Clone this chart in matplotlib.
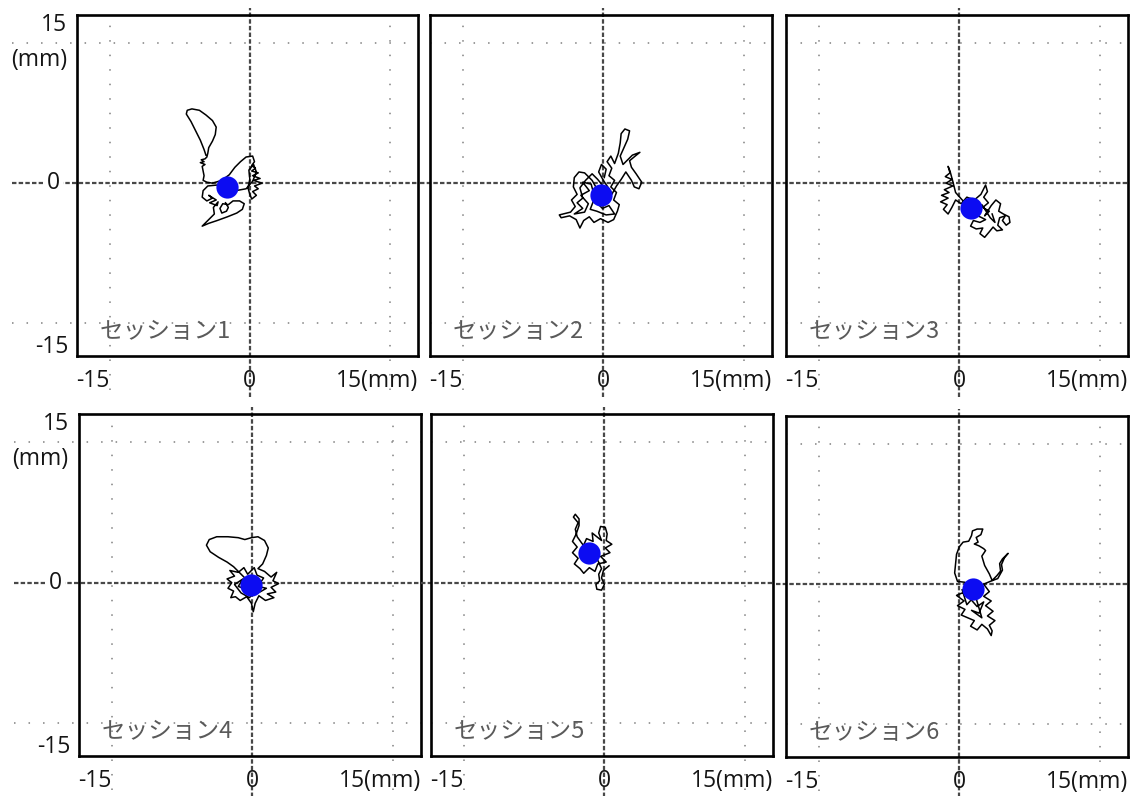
import matplotlib
matplotlib.use("Agg")
import matplotlib.pyplot as plt
import matplotlib.transforms as mtransforms

plt.rcParams['font.family'] = ['Open Sans', 'Noto Sans CJK JP', 'DejaVu Sans']

# session labels and mean position (mm) of each sway trace
sessions = ["セッション1", "セッション2", "セッション3", "セッション4", "セッション5", "セッション6"]
center_x = [-2.4, -0.3, 1.2, -0.1, -1.6, 1.5]
center_y = [-0.4, -1.3, -2.7, -0.3, 3.2, -0.5]

# hand-traced sway paths (mm), (x, y) pairs
s1 = [(-4.7, 3.0), (-4.9, 3.6), (-5.3, 4.6), (-5.8, 5.6), (-6.3, 6.6), (-6.8, 7.4),
      (-6.7, 7.8), (-6.2, 7.95), (-5.4, 7.8), (-4.7, 7.3), (-4.0, 6.7), (-3.6, 6.0),
      (-3.7, 5.2), (-4.0, 4.5), (-4.4, 3.8), (-4.5, 3.2), (-4.6, 2.8),
      (-4.8, 2.6), (-5.2, 2.5), (-4.9, 2.3), (-5.3, 2.2), (-4.8, 2.0), (-5.1, 1.8),
      (-5.0, 1.3), (-4.9, 0.8), (-5.0, 0.3), (-4.6, 0.1),
      (-4.0, 0.0), (-3.0, 0.3), (-2.2, 0.9), (-1.6, 1.7), (-1.0, 2.3), (-0.4, 2.8),
      (0.3, 2.9), (0.5, 2.3), (0.2, 1.9), (0.6, 1.6), (0.2, 1.3), (0.9, 1.1), (0.3, 0.8),
      (1.1, 0.5), (0.4, 0.3), (1.3, 0.0), (0.5, -0.3), (0.9, -0.6), (0.3, -0.9),
      (0.7, -1.3), (0.2, -1.7), (0.0, -1.2), (-0.2, -0.5), (0.0, 0.4), (-0.1, 1.4),
      (0.4, 2.0), (0.7, 1.2), (0.3, 0.2), (-0.4, -0.6),
      (-1.5, -0.8), (-2.5, -0.5), (-3.5, -0.2), (-4.5, -0.3), (-5.0, -0.8), (-5.1, -1.5),
      (-4.6, -1.9), (-4.0, -1.6), (-4.4, -1.3), (-3.6, -1.8), (-4.3, -2.1), (-3.5, -2.4),
      (-3.4, -2.0), (-3.9, -2.6), (-3.8, -3.3), (-4.4, -3.9), (-5.1, -4.6), (-4.4, -4.3),
      (-3.5, -4.0), (-2.4, -3.6), (-1.4, -3.2), (-0.8, -2.8), (-0.6, -2.2), (-1.1, -1.9),
      (-1.8, -1.9), (-2.3, -2.3), (-2.9, -2.2), (-3.2, -2.7), (-3.0, -3.2), (-2.5, -3.0),
      (-2.3, -2.6), (-2.6, -2.1)]

s2 = [(-0.3, -1.3), (-1.2, 0.3), (-2.0, 1.1), (-2.6, 1.2), (-3.1, 0.6), (-3.2, -0.4),
      (-2.8, -1.2), (-3.4, -1.8), (-3.0, -2.5), (-3.5, -3.1), (-4.7, -3.4), (-4.5, -3.7),
      (-3.6, -3.5), (-2.9, -3.9), (-2.5, -4.8), (-2.1, -4.0), (-1.5, -3.6), (-1.0, -4.2),
      (-0.3, -3.8), (0.5, -4.2), (1.1, -3.9), (1.5, -3.0), (1.7, -2.3), (1.1, -1.8),
      (1.4, -1.0), (0.8, -0.4), (1.2, 0.3), (0.6, 0.8), (0.9, 1.6), (0.4, 2.3), (0.8, 2.9),
      (1.2, 2.1), (1.6, 3.2), (1.8, 4.3), (1.9, 5.3), (2.3, 5.8), (2.8, 5.6), (2.6, 4.7),
      (2.2, 3.8), (1.8, 2.9), (2.1, 2.0), (2.6, 2.5), (3.1, 3.0), (3.9, 3.3), (3.4, 2.9),
      (2.8, 2.4), (3.0, 1.7), (3.5, 1.0), (4.1, 0.1), (3.8, -0.6), (3.3, -0.4), (3.0, 0.3),
      (2.4, 1.2), (1.9, 0.4), (1.4, -0.3), (0.9, -1.2), (0.2, -0.6), (-0.6, 0.4),
      (-1.2, 1.0), (-1.9, 0.3), (-2.5, -0.5), (-2.2, -1.6), (-2.8, -2.1), (-2.2, -2.7),
      (-3.1, -3.3), (-2.0, -3.1), (-1.6, -2.2), (-2.4, -1.3), (-1.5, -0.8), (-2.2, 0.1),
      (-1.3, -0.1), (-0.8, -2.0), (-0.1, -2.7), (0.6, -2.4), (1.2, -3.3), (0.3, -3.4),
      (-0.7, -3.0), (-1.4, -2.8), (-0.9, -1.5), (0.2, -1.8), (0.8, -0.9), (0.0, 0.3),
      (-0.5, 1.2), (-0.2, 2.0), (0.3, 1.5), (0.1, 0.6)]

s3 = [(1.2, -2.7), (0.4, -1.9), (-0.4, -1.0), (-0.7, 0.2), (-1.0, 1.3), (-1.2, 1.8),
      (-1.0, 1.1), (-1.5, 0.7), (-0.8, 0.4), (-1.4, 0.0), (-0.7, -0.3), (-1.6, -0.7),
      (-1.1, -1.0), (-1.9, -1.3), (-1.2, -1.6), (-2.0, -2.0), (-1.3, -2.3), (-1.7, -2.8),
      (-1.2, -3.3), (-0.8, -2.6), (-0.4, -1.8), (0.2, -2.2), (0.8, -1.5), (1.6, -1.8),
      (2.3, -1.2), (2.8, -0.2), (3.0, -0.9), (2.6, -1.5), (3.1, -2.1), (2.5, -2.6),
      (3.2, -3.0), (2.7, -3.5), (3.4, -2.4), (3.9, -1.8), (4.4, -2.2), (4.2, -3.0),
      (4.7, -3.3), (5.3, -3.6), (5.4, -4.2), (5.0, -4.5), (4.6, -4.0), (4.9, -3.5),
      (4.3, -3.7), (4.1, -4.5), (4.6, -5.0), (4.0, -5.1), (3.6, -4.7), (3.2, -5.2),
      (2.7, -5.8), (2.2, -5.4), (2.5, -4.8), (1.8, -4.9), (1.2, -4.6), (1.5, -4.0),
      (2.2, -4.2), (2.8, -3.9), (2.0, -3.5), (1.4, -3.0), (2.4, -2.3), (3.3, -3.7),
      (3.8, -4.2), (3.5, -3.3)]

s4 = [(0.0, -0.3), (-1.2, 0.9), (-2.0, 1.7), (-2.7, 2.2), (-3.6, 2.7), (-4.5, 3.3),
      (-4.9, 4.0), (-4.6, 4.6), (-3.8, 4.9), (-2.6, 4.9), (-1.5, 4.8), (-0.8, 4.6),
      (-0.1, 4.8), (0.6, 4.9), (1.3, 4.5), (1.7, 3.7), (1.5, 2.9), (1.1, 2.0), (0.6, 1.5),
      (1.3, 1.2), (2.0, 0.6), (2.6, 1.1), (2.2, 0.2), (2.8, -0.1), (2.0, -0.5), (2.5, -1.0),
      (1.6, -1.2), (2.3, -1.6), (1.4, -1.9), (0.7, -1.4), (0.3, -2.2), (0.1, -3.1),
      (-0.1, -2.2), (-0.6, -1.5), (-1.3, -1.9), (-1.8, -1.5), (-2.3, -1.6), (-2.0, -0.9),
      (-2.6, -0.6), (-2.2, 0.0), (-2.7, 0.4), (-1.9, 0.7), (-2.4, 1.3), (-1.5, 1.1),
      (-0.9, 1.6), (-0.5, 0.9), (0.2, 1.6), (0.5, 0.8), (1.2, 0.5), (0.6, -0.4),
      (1.5, -0.6), (0.8, -1.0), (-0.4, -0.8), (-1.5, -0.4), (-1.0, 0.4), (-1.9, -0.2),
      (-1.2, -1.1), (-0.3, -1.6), (0.9, 0.0)]

s5 = [(-1.6, 3.2), (-2.4, 4.2), (-2.9, 4.9), (-3.1, 5.7), (-2.8, 6.4), (-3.3, 7.0),
      (-3.1, 7.3), (-2.7, 6.8), (-2.7, 6.1), (-3.0, 5.2), (-3.4, 4.4), (-2.9, 3.8),
      (-3.4, 3.2), (-2.8, 2.6), (-3.2, 2.0), (-2.6, 1.5), (-2.2, 1.0), (-1.6, 1.6),
      (-1.0, 1.2), (-0.7, 2.0), (0.2, 2.2), (-0.4, 2.8), (0.6, 3.2), (0.1, 3.7), (0.8, 4.1),
      (0.2, 4.5), (0.3, 5.2), (0.1, 5.9), (-0.4, 6.0), (-0.6, 5.3), (-0.3, 4.5),
      (-0.8, 4.9), (-1.3, 5.3), (-1.2, 4.4), (-1.9, 4.7), (-2.3, 3.8), (-1.4, 3.7),
      (-2.5, 2.9), (-1.9, 2.2), (-0.8, 2.6), (-0.3, 1.5), (-0.6, 0.9), (-0.5, 0.2),
      (-0.9, -0.2), (-0.8, -0.7), (-0.3, -0.8), (0.0, -0.2), (-0.3, 0.5), (-0.1, 1.3),
      (0.5, 1.8)]

s6 = [(1.5, -0.5), (0.6, 0.2), (-0.2, 0.3), (-0.5, 1.2), (-0.4, 2.2), (-0.3, 3.2),
      (0.0, 4.0), (0.4, 4.5), (1.0, 4.6), (1.3, 5.2), (1.4, 5.7), (1.9, 5.9), (2.5, 5.9),
      (2.3, 5.3), (1.8, 5.0), (2.0, 4.5), (1.6, 4.3), (2.1, 4.1), (2.6, 3.8), (2.8, 3.6),
      (2.4, 3.0), (2.7, 2.0), (3.2, 1.1), (3.5, 0.4), (4.0, 0.9), (4.4, 1.4), (4.3, 2.2),
      (4.6, 2.7), (5.2, 3.3), (4.8, 2.8), (4.5, 2.1), (4.6, 1.5), (4.1, 0.6), (3.3, 0.3),
      (2.6, 0.0), (3.2, -0.8), (2.6, -1.3), (3.4, -1.8), (2.8, -2.3), (3.6, -2.9),
      (3.0, -3.4), (3.8, -3.9), (3.2, -4.4), (3.5, -5.0), (3.4, -5.5), (3.0, -4.8),
      (2.4, -4.3), (1.9, -4.9), (1.2, -4.5), (1.6, -3.9), (0.9, -3.6), (0.2, -3.3),
      (0.6, -2.7), (-0.2, -2.3), (0.5, -1.8), (-0.3, -1.2), (0.4, -0.9), (1.2, -1.6),
      (1.9, -2.4), (2.6, -1.9), (2.1, -3.1), (1.3, -2.8), (2.4, -3.6), (1.7, -1.2),
      (0.8, -2.2), (0.3, -0.6)]

traces = [s1, s2, s3, s4, s5, s6]

grid_ticks = [-15, 15]
xlim = (-18.5, 18.0)
ylim = (-18.5, 18.0)

fig = plt.figure(figsize=(11.31, 7.96), dpi=100)

# axes boxes in pixels (left, top, right, bottom) of the 1131x796 canvas
W, H = 1131.0, 796.0
boxes = [(77, 15, 418, 356), (430, 15, 772, 356), (786, 15, 1128, 356),
         (79, 414, 421, 756), (431, 414, 773, 756), (786, 416, 1128, 757)]

zero_color = "#484848"
dot_color = "#808080"
label_color = "#151515"
fs = 16.5

for i, (l, t, r, b) in enumerate(boxes):
    ax = fig.add_axes([l / W, 1 - b / H, (r - l) / W, (b - t) / H])
    ax.set_xlim(*xlim)
    ax.set_ylim(*ylim)
    ax.set_xticks([])
    ax.set_yticks([])
    for sp in ax.spines.values():
        sp.set_linewidth(1.9)
        sp.set_color("black")
        sp.set_zorder(6)

    first_col = i % 3 == 0
    left_ext = -0.19 if first_col else -0.03

    # dotted reference grid at +-15 mm
    for g in grid_ticks:
        ax.axvline(g, ymin=-0.1, ymax=0.97, color=dot_color, lw=1.1,
                   ls=(0, (1, 8.5)), clip_on=False, zorder=1)
        ax.axhline(g, xmin=left_ext if first_col else 0.0, xmax=1.0,
                   color=dot_color, lw=1.1, ls=(0, (1, 8.5)),
                   clip_on=False, zorder=1)

    # dashed zero axes
    ax.axvline(0, ymin=-0.12, ymax=1.02, color=zero_color, lw=1.6,
               ls=(0, (2, 1)), clip_on=False, zorder=2)
    ax.axhline(0, xmin=left_ext, xmax=1.0, color=zero_color, lw=1.6,
               ls=(0, (2, 1)), clip_on=False, zorder=2)

    # sway trace and its centre
    tx = [p[0] for p in traces[i]]
    ty = [p[1] for p in traces[i]]
    ax.plot(tx, ty, color="black", lw=1.1, solid_joinstyle="round", zorder=3)
    ax.plot(center_x[i], center_y[i], "o", ms=16, color="#0c0cf2",
            mec="none", zorder=4)

    ax.text(0.065, 0.072, sessions[i], transform=ax.transAxes, ha="left",
            va="center", fontsize=17, color="#5a5a5a",
            family=["Noto Sans CJK JP", "DejaVu Sans"], zorder=5)

    # x labels
    bx = mtransforms.blended_transform_factory(ax.transData, ax.transAxes)
    ax.text(0.045, -0.073, "-15", transform=ax.transAxes, ha="center",
            va="center", fontsize=fs, color=label_color)
    ax.text(0, -0.073, "0", transform=bx, ha="center", va="center",
            fontsize=fs, color=label_color)
    ax.text(1.0, -0.073, "15(mm)", transform=ax.transAxes, ha="right",
            va="center", fontsize=fs, color=label_color)

    # y labels only on the first column
    if first_col:
        by = mtransforms.blended_transform_factory(ax.transAxes, ax.transData)
        ax.text(-0.03, 0.972, "15", transform=ax.transAxes, ha="right",
                va="center", fontsize=fs, color=label_color)
        ax.text(-0.03, 0.868, "(mm)", transform=ax.transAxes, ha="right",
                va="center", fontsize=fs, color=label_color,
                bbox=dict(boxstyle="square,pad=0.05", fc="white", ec="none"))
        ax.text(-0.05, 0, "0", transform=by, ha="right", va="center",
                fontsize=fs, color=label_color,
                bbox=dict(boxstyle="square,pad=0.15", fc="white", ec="none"))
        ax.text(-0.026, 0.027, "-15", transform=ax.transAxes, ha="right",
                va="center", fontsize=fs, color=label_color)

fig.savefig("out.png", dpi=100)
